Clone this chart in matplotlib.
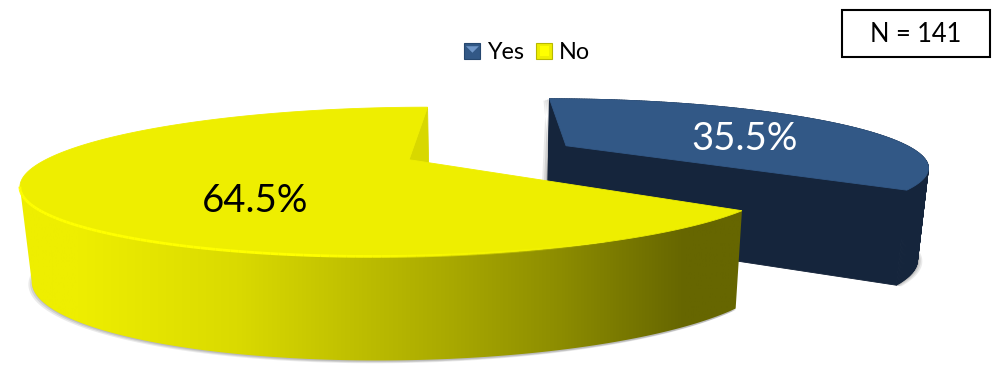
import matplotlib
matplotlib.use("Agg")
import matplotlib.pyplot as plt
from matplotlib.patches import Patch, Polygon, Rectangle
from matplotlib.collections import LineCollection, PolyCollection
from matplotlib.legend_handler import HandlerPatch
from matplotlib.colors import LinearSegmentedColormap
import numpy as np

categories = ["Yes", "No"]
shares = [35.5, 64.5]
labels = ["35.5%", "64.5%"]
n_text = "N = 141"

plt.rcParams["font.family"] = ["Lato", "DejaVu Sans"]

# reglages de la vue "3D"
VX, VY = 490, 152.5   # centre de la projection
R, H = 352, 63.9      # rayon ecran, ecrasement vertical
K = 0.287             # force de la perspective
EXPLODE = 0.248
DEPTH = 90
INSET = 0.975

BLEU_TOP, BLEU_MUR = "#325886", "#15253C"
JAUNE_TOP = "#EEEE00"


def projette(x, y):
    s = 1 / (1 + K * y)
    return VX + R * x * s, VY - H * y * s, s


def bas(px, py, s):
    # meme point sur le bas de la part
    return VX + (px - VX) * INSET, py + DEPTH + 30 * (s - 1)


def part(debut, fin):
    # debut/fin en degres, sens horaire depuis midi
    milieu = np.radians((debut + fin) / 2)
    ox, oy = EXPLODE * np.sin(milieu), EXPLODE * np.cos(milieu)
    t = np.radians(np.linspace(debut, fin, 240))
    return projette(ox, oy), projette(ox + np.sin(t), oy + np.cos(t))


def poly(ax, xs, ys, couleur, z, alpha=1.0):
    p = Polygon(np.c_[xs, ys], fc=couleur, ec=couleur if alpha == 1.0 else "none", lw=0.6, alpha=alpha, zorder=z)
    ax.add_patch(p)
    return p


class CarreBiseau(HandlerPatch):
    # petit carre de legende avec son reflet
    def create_artists(self, legend, orig, xd, yd, w, h, fontsize, trans):
        fond = Rectangle((-xd, -yd), w, h, fc=orig.get_facecolor(), ec=orig.get_edgecolor(), lw=0.8, transform=trans)
        x0, y0 = -xd, -yd
        if orig.get_label() == categories[0]:
            pts = [[x0 + w * 0.1, y0 + h * 0.8], [x0 + w * 0.9, y0 + h * 0.8], [x0 + w * 0.5, y0 + h * 0.4]]
            reflet = Polygon(pts, fc="#6F96C8", ec="none", transform=trans)
        else:
            reflet = Rectangle((x0 + w * 0.2, y0 + h * 0.2), w * 0.6, h * 0.6, fc="#FFFF00", ec="none", transform=trans)
        return [fond, reflet]


fig = plt.figure(figsize=(9.92, 3.69), dpi=100)
ax = fig.add_axes([0, 0, 1, 1])

angles = np.cumsum([0] + shares) * 3.6
c_oui, a_oui = part(angles[0], angles[1])
c_non, a_non = part(angles[1], angles[2])

# --- part bleue ---
bx, by = bas(*a_oui)
cbx, cby = bas(*c_oui)
for d, al in [(6, 0.15), (4, 0.2), (2, 0.3)]:
    poly(ax, np.r_[bx, cbx] + d * 0.8, np.r_[by, cby] + d * 0.2, "#777777", 1, al)
    poly(ax, np.r_[a_oui[0][:2], bx[0], cbx] - d, np.r_[a_oui[1][:2], by[0], cby] + d * 0.3, "#777777", 1, al)
# le mur en petits quadrilateres : l'arc revient sur lui-meme pres du coin
quads = [[(a_oui[0][i], a_oui[1][i]), (a_oui[0][i + 1], a_oui[1][i + 1]), (bx[i + 1], by[i + 1]), (bx[i], by[i])]
         for i in range(len(bx) - 1)]
ax.add_collection(PolyCollection(quads, facecolors=BLEU_MUR, edgecolors=BLEU_MUR, linewidths=0.6, zorder=2))
poly(ax, [c_oui[0], a_oui[0][-1], bx[-1], cbx], [c_oui[1], a_oui[1][-1], by[-1], cby], BLEU_MUR, 2)
poly(ax, [c_oui[0], a_oui[0][0], bx[0], cbx], [c_oui[1], a_oui[1][0], by[0], cby], BLEU_MUR, 2)
poly(ax, np.r_[c_oui[0], a_oui[0]], np.r_[c_oui[1], a_oui[1]], BLEU_TOP, 3)

# --- part jaune ---
bx, by = bas(*a_non)
cbx, cby = bas(*c_non)
for d, al in [(7, 0.15), (5, 0.2), (3, 0.25)]:
    poly(ax, bx - d * 0.9 + 3, by + d * 0.4, "#777777", 4, al)
# coupe du fond, visible pres du sommet
poly(ax, [c_non[0], a_non[0][-1], bx[-1], cbx], [c_non[1], a_non[1][-1], by[-1], cby], "#D8D800", 5)
# mur avant en degrade
gauche = np.argmin(a_non[0])
px, py = a_non[0][:gauche + 1], a_non[1][:gauche + 1]
qx, qy = bx[:gauche + 1], by[:gauche + 1]
mur = Polygon(np.c_[np.r_[px, qx[::-1]], np.r_[py, qy[::-1]]], fc="none", ec="none", zorder=6)
ax.add_patch(mur)
cm = LinearSegmentedColormap.from_list(
    "mur", [(0, "#EEEE00"), (0.08, "#EEEE00"), (0.3, "#DADA00"), (0.6, "#A8A800"), (0.75, "#8C8C00"), (0.92, "#666600"), (1, "#666600")])
xmin, xmax = min(qx.min(), px.min()), max(qx.max(), px.max())
img = ax.imshow(np.linspace(0, 1, 256)[None, :], cmap=cm, aspect="auto", extent=(xmin, xmax, 369, 0), zorder=6)
img.set_clip_path(mur)
poly(ax, np.r_[c_non[0], a_non[0]], np.r_[c_non[1], a_non[1]], JAUNE_TOP, 7)
# liseré clair qui s'efface vers la droite
segments = np.stack([np.c_[px[:-1], py[:-1]], np.c_[px[1:], py[1:]]], axis=1)
fondu = np.clip((620 - px[:-1]) / 300, 0, 1)
couleurs = np.c_[np.ones_like(fondu), np.ones_like(fondu), np.zeros_like(fondu), fondu]
ax.add_collection(LineCollection(segments, colors=couleurs, linewidths=2, zorder=8))

ax.set_xlim(0, 992)
ax.set_ylim(369, 0)
ax.axis("off")

# etiquettes
ax.text(745, 139, labels[0], color="white", fontsize=27.5, ha="center", va="center", zorder=9)
ax.text(255, 201, labels[1], color="black", fontsize=27.5, ha="center", va="center", zorder=9)

# legende
fig.legend(
    handles=[Patch(fc=BLEU_TOP, ec="#25476F", label=categories[0]), Patch(fc=JAUNE_TOP, ec="#B8B800", label=categories[1])],
    handler_map={Patch: CarreBiseau()},
    loc="center", bbox_to_anchor=(0.5315, 0.857), ncol=2, frameon=False, fontsize=16.8,
    handlelength=0.69, handleheight=0.69, handletextpad=0.28, columnspacing=0.53, borderpad=0,
)

# cartouche N
ax.add_patch(Rectangle((842, 10), 148, 47, fc="white", ec="black", lw=1.5, zorder=9))
ax.text(916, 34, n_text, fontsize=18.4, ha="center", va="center", zorder=10)

fig.savefig("out.png", dpi=100)
